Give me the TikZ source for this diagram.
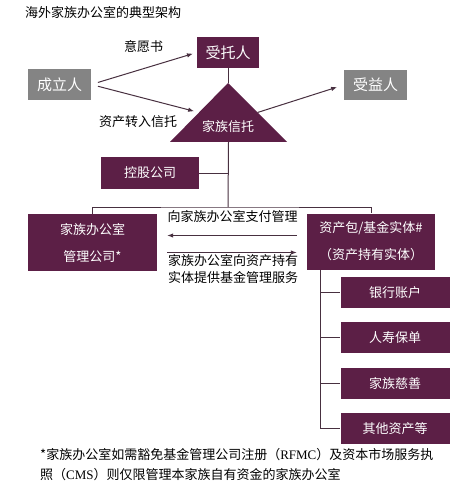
\documentclass[tikz,border=0pt]{standalone}
\usepackage{fontspec}
\setmainfont{Noto Sans CJK SC}
\newfontfamily\latinserif{Liberation Serif}
\usetikzlibrary{positioning}
\usetikzlibrary{calc}
\usetikzlibrary{arrows.meta}
\definecolor{plum}{RGB}{92,31,70}
\definecolor{ashbox}{RGB}{132,132,132}
\definecolor{wire}{RGB}{72,48,64}

\begin{document}
\begin{tikzpicture} [
    x=1pt, y=-1pt,              % pixel grid, y runs down
    node distance=14pt and 20pt,% gap between the asset boxes
    ]
% -------------------------------------------------
\tikzset{
  base/.style={inner sep=0pt, align=center, text=white, font=\fontsize{13}{27}\selectfont},
  box/.style={base, fill=plum},
  bigbox/.style={base, font=\fontsize{15}{18}\selectfont, minimum height=31pt, minimum width=63pt},
  leafbox/.style={box, minimum width=109pt, minimum height=31pt},
  label/.style={inner sep=0pt, font=\fontsize{13}{17}\selectfont},
  line/.style={draw=wire, line width=1pt},
  arrow/.style={line, -{Latex[length=6pt,width=4.5pt]}}
}
    \useasboundingbox [fill=white] (0,0) rectangle (465,497);

    \node [label, anchor=west] (title) at (25,13) {海外家族办公室的典型架构};

    \node [bigbox, fill=ashbox] (founder) at (59.5,84.5) {成立人};
    \node [bigbox, fill=plum, minimum width=62pt] (trustee) at (228,52.5) {受托人};
    \node [bigbox, fill=ashbox, minimum height=30pt] (benef) at (375.5,85) {受益人};

    \coordinate (apex) at (228,83);                                   % trust: top corner
    \coordinate (baseL) at (170,142);                                 % trust: left corner
    \coordinate (baseR) at (287,142);                                 % trust: right corner
    \fill [plum] (apex) -- (baseL) -- (baseR) -- cycle;
    \node [base] (trust) at (228,127) {家族信托};
    \coordinate (trustin) at ($(apex)!0.5!(baseL)$);
    \coordinate (trustout) at ($(apex)!0.5!(baseR)$);
    \coordinate (trustfoot) at ($(baseL)!0.5!(baseR)$);

    \node [label] (wish) at (143.5,47) {意愿书};
    \node [label] (transfer) at (138,122) {资产转入信托};

    \node [box, minimum width=98pt, minimum height=32pt] (holding) at (150,173) {控股公司};
    \coordinate (fork) at (228,207);

    \node [box, minimum width=129pt, minimum height=57pt] (office) at (92.5,242.5) {家族办公室\\管理公司*};
    \node [box, minimum width=128pt, minimum height=56pt] (asset) at (371,241.5) {资产包/基金实体\#\\（资产持有实体）};

    \node [label] (fee) at (232.5,217) {向家族办公室支付管理};
    \node [label, align=left, anchor=west] (service) at (168,268.5) {家族办公室向资产持有\\实体提供基金管理服务};

    \node [leafbox] (bank) at (395,292.5) {银行账户};
    \node [leafbox, below=of bank] (policy) {人寿保单};
    \node [leafbox, below=of policy] (charity) {家族慈善};
    \node [leafbox, below=of charity] (other) {其他资产等};
    \coordinate (spine) at ([xshift=-51pt]asset.south);

    \node [label, align=left, anchor=west, font=\fontsize{13}{20}\selectfont] (note) at (40,465)
      {*家族办公室如需豁免基金管理公司注册（{\latinserif RFMC}）及资本市场服务执\\照（{\latinserif CMS}）则仅限管理本家族自有资金的家族办公室};

    \path [arrow, shorten <=7pt, shorten >=4pt] (founder.east) -- (trustee.west);
    \path [arrow, shorten <=7pt, shorten >=5pt] (founder.east) -- (trustin);
    \path [arrow, shorten >=7pt] (trustout) -- (benef.west);

    \path [line] (trustee.south) -- (apex);
    \path [line] (trustfoot) -- (fork);
    \path [line] (holding.east) -- (holding.east -| fork);
    \path [line] (office.north) |- (fork) -| (asset.north);

    \coordinate (payR) at ([yshift=6pt]asset.west);
    \coordinate (payL) at (office.east |- payR);
    \coordinate (serveL) at ([yshift=-10pt]office.east);
    \coordinate (serveR) at (asset.west |- serveL);
    \path [arrow, shorten <=10pt, shorten >=10pt] (payR) -- (payL);
    \path [arrow, shorten <=10pt, shorten >=10pt] (serveL) -- (serveR);

    \foreach \leaf in {bank,policy,charity,other}
      \path [line] (spine) |- (\leaf.west);

\end{tikzpicture}
\end{document}
